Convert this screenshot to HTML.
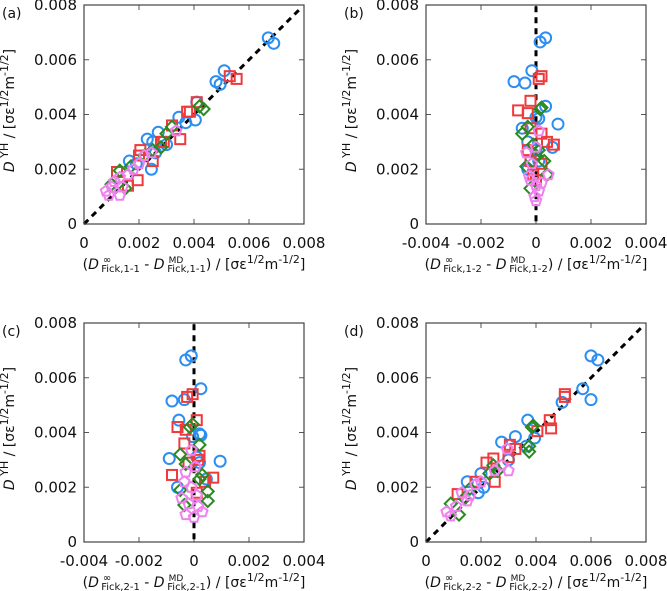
<!DOCTYPE html>
<html><head><meta charset="utf-8"><style>
body{margin:0;background:#fff;}
svg{display:block;font-family:"DejaVu Sans","Liberation Sans",sans-serif;}
</style></head><body>
<svg id="chart" width="667" height="591" viewBox="0 0 667 591" xmlns="http://www.w3.org/2000/svg"></svg>
<script>
// ---- data (units of 1e-3) ----
const yTicks = [0, 2, 4, 6, 8];
const yTickLabels = ["0", "0.002", "0.004", "0.006", "0.008"];
const xTicksPos = [0, 2, 4, 6, 8];
const xTickLabelsPos = ["0", "0.002", "0.004", "0.006", "0.008"];
const xTicksSym = [-4, -2, 0, 2, 4];
const xTickLabelsSym = ["-0.004", "-0.002", "0", "0.002", "0.004"];
const panelLetters = ["(a)", "(b)", "(c)", "(d)"];
const panelSubs = ["1-1", "1-2", "2-1", "2-2"];

const aBlue = [[6.7,6.8],[6.9,6.6],[5.1,5.6],[4.8,5.2],[4.95,5.1],[4.1,4.45],[4.05,3.8],[3.45,3.9],[3.7,3.7],[2.7,3.35],[2.3,3.1],[2.5,3.0],[2.45,2.0],[1.65,2.3],[3.0,2.9],[2.6,2.6],[1.9,2.2]];
const aRed = [[5.3,5.4],[5.55,5.3],[4.1,4.45],[3.75,4.1],[3.85,4.1],[3.5,3.1],[3.2,3.6],[2.8,3.0],[2.0,2.5],[2.05,2.7],[2.5,2.3],[1.2,1.9],[1.95,1.6],[1.6,1.4],[2.9,3.0]];
const aGreen = [[4.35,4.2],[4.2,4.3],[3.0,3.3],[3.2,3.55],[2.5,2.7],[2.2,2.5],[1.3,1.95],[1.0,1.45],[1.7,2.1],[2.8,2.8],[1.5,1.3]];
const aPink = [[3.35,3.4],[2.45,2.6],[2.0,2.2],[1.8,2.0],[1.3,1.7],[1.1,1.55],[0.8,1.2],[0.9,1.05],[1.3,1.05],[1.6,1.8],[1.4,1.35],[2.2,2.5],[1.0,1.35]];

const bBlue = [[0.35,6.8],[0.15,6.65],[-0.15,5.6],[-0.8,5.2],[-0.4,5.15],[0.35,4.3],[0.8,3.65],[0.0,3.9],[0.1,3.85],[-0.5,3.5],[0.6,2.8],[-0.3,3.0],[-0.3,2.0],[0.1,2.3],[0.0,2.7]];
const bRed = [[0.2,5.4],[0.1,5.3],[-0.2,4.5],[-0.65,4.15],[-0.3,4.05],[0.4,3.0],[0.65,2.9],[-0.2,3.5],[0.2,3.3],[-0.3,2.7],[-0.2,2.3],[0.2,2.2],[-0.1,1.8],[0.0,1.6]];
const bGreen = [[0.2,4.25],[0.15,4.2],[-0.5,3.3],[-0.3,3.55],[0.3,2.3],[-0.35,2.1],[0.1,2.7],[0.4,1.8],[-0.2,1.3],[0.0,2.5],[-0.1,2.9]];
const bPink = [[0.1,3.4],[-0.35,2.6],[0.0,2.8],[-0.15,2.2],[0.45,1.8],[-0.2,1.6],[0.0,1.4],[0.1,1.2],[-0.05,1.0],[0.0,0.85],[0.2,1.5],[-0.25,1.75]];

const cBlue = [[-0.1,6.8],[-0.3,6.65],[0.25,5.6],[-0.8,5.15],[-0.35,5.2],[-0.55,4.45],[0.2,3.95],[0.25,3.9],[-0.05,3.85],[-0.9,3.05],[0.95,2.95],[0.2,2.9],[-0.6,2.0],[0.45,2.3],[0.1,3.1]];
const cRed = [[-0.05,5.4],[-0.25,5.3],[0.1,4.45],[-0.6,4.2],[-0.3,4.1],[-0.35,3.6],[0.2,3.15],[0.15,3.0],[-0.8,2.45],[0.7,2.35],[-0.2,2.9],[0.4,2.2],[0.1,1.8]];
const cGreen = [[-0.15,4.2],[-0.05,4.3],[0.2,3.55],[-0.5,3.2],[-0.3,2.85],[0.3,2.45],[0.2,2.3],[0.5,1.85],[-0.5,1.9],[-0.35,1.35],[0.5,1.5]];
const cPink = [[-0.1,3.35],[0.05,2.75],[-0.3,2.55],[-0.35,2.2],[-0.45,1.6],[-0.2,1.4],[0.15,1.3],[-0.3,1.0],[0.0,0.9],[0.3,1.1],[0.1,1.7],[-0.1,2.0]];

const dBlue = [[6.0,6.8],[6.25,6.65],[5.7,5.6],[6.0,5.2],[4.95,5.1],[3.7,4.45],[3.95,3.8],[3.25,3.85],[2.75,3.65],[3.65,3.5],[3.0,3.0],[2.0,2.5],[1.5,2.2],[1.9,1.8],[2.1,2.0]];
const dRed = [[5.05,5.4],[5.05,5.3],[4.5,4.45],[4.55,4.15],[4.05,4.05],[3.05,3.55],[3.25,3.4],[2.2,2.9],[2.45,3.05],[3.0,3.1],[2.5,2.2],[1.15,1.75],[1.8,2.2]];
const dGreen = [[3.85,4.2],[3.9,4.25],[3.75,3.5],[3.75,3.3],[2.45,2.8],[2.3,2.5],[0.9,1.4],[1.2,1.0],[1.6,1.95],[1.4,1.6],[2.6,2.6]];
const dPink = [[2.95,3.4],[2.5,2.6],[3.0,2.6],[2.75,2.8],[2.0,2.2],[1.8,2.1],[1.3,1.8],[0.75,1.1],[0.9,0.95],[1.5,1.5],[1.6,1.7],[1.1,1.3]];

const NS = "http://www.w3.org/2000/svg";
const svg = document.getElementById("chart");
function mk(tag, attrs, parent) {
  const e = document.createElementNS(NS, tag);
  for (const k in attrs) e.setAttribute(k, attrs[k]);
  (parent || svg).appendChild(e);
  return e;
}
const panels = [
  {x:84, y:5, sym:false, series:[aBlue,aRed,aGreen,aPink], id:"a"},
  {x:426, y:5, sym:true, series:[bBlue,bRed,bGreen,bPink], id:"b"},
  {x:84, y:323, sym:true, series:[cBlue,cRed,cGreen,cPink], id:"c"},
  {x:426, y:323, sym:false, series:[dBlue,dRed,dGreen,dPink], id:"d"}
];
const W = 220, H = 219;
const colors = ["#2b8ef0", "#ee3a3c", "#2a8a22", "#ee82ee"];
const names = ["circle", "square", "diamond", "pentagon"];

panels.forEach((p, pi) => {
  const g = mk("g", {});
  
  
  const xmin = p.sym ? -4 : 0, xmax = p.sym ? 4 : 8;
  const sx = v => p.x + (v - xmin) / (xmax - xmin) * W;
  const sy = v => p.y + H - v / 8 * H;
  const xt = p.sym ? xTicksSym : xTicksPos;
  const xl = p.sym ? xTickLabelsSym : xTickLabelsPos;
  xt.forEach((t, i) => {
    mk("line", {x1:sx(t), x2:sx(t), y1:p.y+H, y2:p.y+H-5, stroke:"#555"}, g);
    mk("line", {x1:sx(t), x2:sx(t), y1:p.y, y2:p.y+5, stroke:"#555"}, g);
    const tx = mk("text", {x:sx(t), y:p.y+H+24, "text-anchor":"middle", "font-size":"15", fill:"#111"}, g);
    tx.textContent = xl[i];
    
    
  });
  yTicks.forEach((t, i) => {
    mk("line", {x1:p.x, x2:p.x+5, y1:sy(t), y2:sy(t), stroke:"#555"}, g);
    mk("line", {x1:p.x+W, x2:p.x+W-5, y1:sy(t), y2:sy(t), stroke:"#555"}, g);
    const tx = mk("text", {x:p.x-7, y:sy(t)+5, "text-anchor":"end", "font-size":"15", fill:"#111"}, g);
    tx.textContent = yTickLabels[i];
    
    
  });
  if (p.sym) mk("line", {x1:sx(0), x2:sx(0), y1:sy(0.1), y2:sy(8), stroke:"#000", "stroke-width":3, "stroke-dasharray":"6,5"}, g);
  else mk("line", {x1:sx(0), x2:sx(7.9), y1:sy(0), y2:sy(7.9), stroke:"#000", "stroke-width":3, "stroke-dasharray":"6,5"}, g);
  p.series.forEach((s, si) => {
    const sg = mk("g", {fill:"none", stroke:colors[si], "stroke-width":2}, g);
    
    
    s.forEach(d => {
      const cx = sx(d[0]), cy = sy(d[1]);
      let m;
      if (si === 0) m = mk("circle", {cx:cx, cy:cy, r:5.5}, sg);
      else if (si === 1) m = mk("rect", {x:cx-5, y:cy-5, width:10, height:10}, sg);
      else if (si === 2) m = mk("polygon", {points:`${cx},${cy-6} ${cx+6},${cy} ${cx},${cy+6} ${cx-6},${cy}`}, sg);
      else {
        let pts = [];
        for (let k = 0; k < 5; k++) { const a = -Math.PI/2 + k*2*Math.PI/5; pts.push((cx+5.5*Math.cos(a)).toFixed(1)+","+(cy+5.5*Math.sin(a)).toFixed(1)); }
        m = mk("polygon", {points:pts.join(" ")}, sg);
      }
      
      
    });
  });
  const fr = mk("rect", {x:p.x, y:p.y, width:W, height:H, fill:"none", stroke:"#444", "stroke-width":1.2}, g);
  
  
  const lt = mk("text", {x:p.x-84+2, y:p.y+13, "font-size":"14", fill:"#111"}, g);
  lt.textContent = panelLetters[pi];
  
  
  const yt = mk("text", {transform:`translate(${p.x-70},${p.y+H/2-4}) rotate(-90)`, "text-anchor":"middle", "font-size":"14", fill:"#111"}, g);
  yt.innerHTML = '<tspan font-style="italic">D</tspan><tspan dy="-6" font-size="11"> YH</tspan><tspan dy="6"> / [σε</tspan><tspan dy="-6" font-size="11">1/2</tspan><tspan dy="6">m</tspan><tspan dy="-6" font-size="11">-1/2</tspan><tspan dy="6">]</tspan>';
  
  
  const sub = panelSubs[pi];
  const xtl = mk("text", {x:p.x+W/2, y:p.y+H+45, "text-anchor":"middle", "font-size":"14", fill:"#111"}, g);
  xtl.innerHTML = `(<tspan font-style="italic">D</tspan><tspan font-size="10" dx="4" dy="-6">∞</tspan><tspan font-size="10" dx="-10" dy="9">Fick,${sub}</tspan><tspan dy="-3"> - </tspan><tspan font-style="italic">D</tspan><tspan font-size="9" dx="4" dy="-6">MD</tspan><tspan font-size="10" dx="-16" dy="9">Fick,${sub}</tspan><tspan dy="-3">) / [σε</tspan><tspan dy="-6" font-size="11">1/2</tspan><tspan dy="6">m</tspan><tspan dy="-6" font-size="11">-1/2</tspan><tspan dy="6">]</tspan>`;
  
  
});
</script>
</body></html>
